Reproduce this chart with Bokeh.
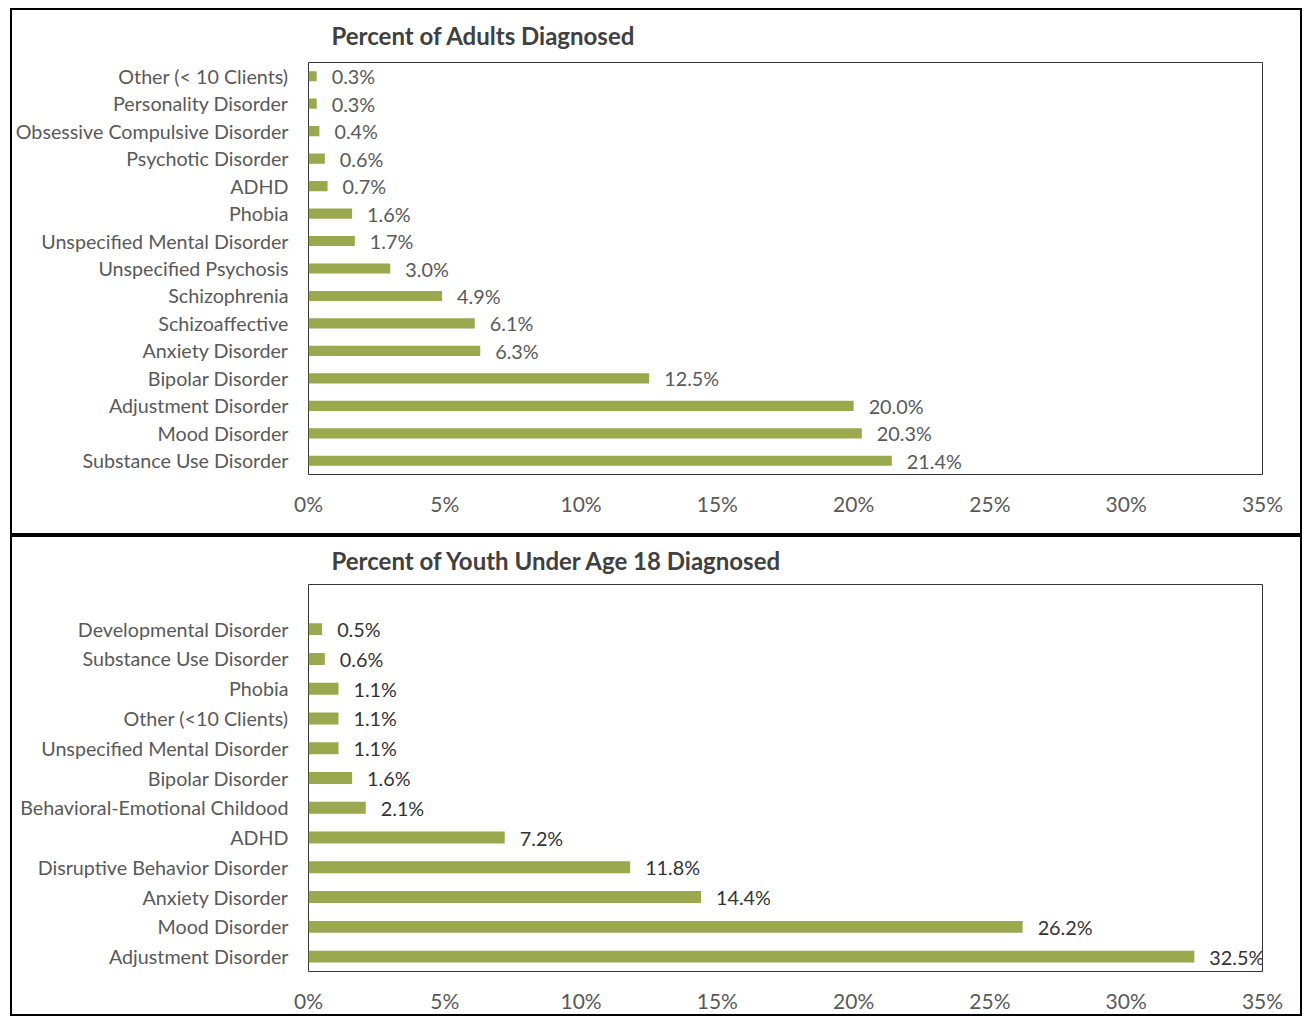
from bokeh.plotting import figure
from bokeh.layouts import column
from bokeh.models import FixedTicker, Range1d, Title, ColumnDataSource
from bokeh.core.properties import value
from bokeh.embed import file_html
from bokeh.resources import INLINE

# ---- data (top-to-bottom order as shown) ----
adult_categories = [
    "Other (< 10 Clients)", "Personality Disorder", "Obsessive Compulsive Disorder",
    "Psychotic Disorder", "ADHD", "Phobia", "Unspecified Mental Disorder",
    "Unspecified Psychosis", "Schizophrenia", "Schizoaffective", "Anxiety Disorder",
    "Bipolar Disorder", "Adjustment Disorder", "Mood Disorder", "Substance Use Disorder",
]
adult_values = [0.3, 0.3, 0.4, 0.6, 0.7, 1.6, 1.7, 3.0, 4.9, 6.1, 6.3, 12.5, 20.0, 20.3, 21.4]

youth_categories = [
    "Developmental Disorder", "Substance Use Disorder", "Phobia", "Other (<10 Clients)",
    "Unspecified Mental Disorder", "Bipolar Disorder", "Behavioral-Emotional Childood",
    "ADHD", "Disruptive Behavior Disorder", "Anxiety Disorder", "Mood Disorder",
    "Adjustment Disorder",
]
youth_values = [0.5, 0.6, 1.1, 1.1, 1.1, 1.6, 2.1, 7.2, 11.8, 14.4, 26.2, 32.5]

x_ticks = [0, 5, 10, 15, 20, 25, 30, 35]
x_tick_labels = ["0%", "5%", "10%", "15%", "20%", "25%", "30%", "35%"]

BAR = "#9aa84e"
GRAY = "#595959"
FONT = "Lato"


def make_panel(title, cats, vals, height, mb_left, mb_right, mb_top, mb_bottom,
               n_slots, bar_h, label_color, title_standoff, y_standoff):
    n = len(cats)
    ys = [n - 1 - i for i in range(n)]
    src = ColumnDataSource(dict(y=ys, v=vals, lab=[f"{v:.1f}%" for v in vals]))
    p = figure(width=1292, height=height, output_backend="svg", toolbar_location=None,
               x_range=Range1d(0, 35), y_range=Range1d(-0.5, n_slots - 0.5),
               min_border_left=mb_left, min_border_right=mb_right,
               min_border_top=mb_top, min_border_bottom=mb_bottom)
    p.title = Title(text=title, align="left", offset=23, vertical_align="top",
                    text_font=FONT, text_font_size="24px", text_font_style="bold",
                    text_color="#404040", standoff=title_standoff)
    p.hbar(y="y", right="v", left=0, height=bar_h, source=src, color=BAR,
           line_color=None)
    p.text(x="v", y="y", text="lab", source=src, x_offset=15, text_baseline="middle",
           text_align="left", text_font=value(FONT), text_font_size="19.8px",
           text_color=label_color)
    p.xaxis.ticker = FixedTicker(ticks=x_ticks)
    p.xaxis.major_label_overrides = {t: l for t, l in zip(x_ticks, x_tick_labels)}
    p.yaxis.ticker = FixedTicker(ticks=ys)
    p.yaxis.major_label_overrides = {y: c for y, c in zip(ys, cats)}
    for ax in (p.xaxis, p.yaxis):
        ax.axis_line_color = None
        ax.major_tick_line_color = None
        ax.minor_tick_line_color = None
        ax.major_label_text_font = FONT
        ax.major_label_text_color = GRAY
    p.xaxis.major_label_text_font_size = "21px"
    p.yaxis.major_label_text_font_size = "19.7px"
    p.xaxis.major_label_standoff = 10
    p.yaxis.major_label_standoff = y_standoff
    p.xgrid.visible = False
    p.ygrid.visible = False
    p.outline_line_color = "#333333"
    p.outline_line_width = 1
    p.styles = {"border": "2px solid black"}
    return p


p1 = make_panel("Percent of Adults Diagnosed", adult_categories, adult_values,
                527, 296, 42, 52, 63, 15, 0.37, GRAY, 21, 14)
p2 = make_panel("Percent of Youth Under Age 18 Diagnosed", youth_categories, youth_values,
                481, 296, 38, 47, 47, 13, 0.4, "#333333", 16, 14)

layout = column(p1, p2, spacing=0, margin=(8, 0, 0, 10))
open("out.html", "w").write(file_html(layout, INLINE))
